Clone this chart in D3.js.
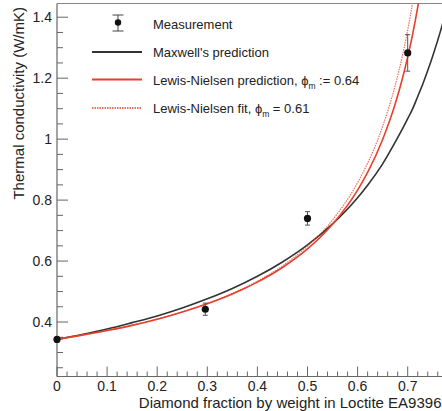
<!DOCTYPE html>
<html>
<head>
<meta charset="utf-8">
<script src="https://cdn.jsdelivr.net/npm/d3@7"></script>
<style>
  html, body { margin: 0; padding: 0; background: #fff; }
  svg text { font-family: "Liberation Sans", Arial, Helvetica, sans-serif; }
</style>
</head>
<body>
<svg id="chart" width="442" height="411"></svg>
<script>
// ---- data ----
const measX   = [0, 0.296, 0.5, 0.7];
const measY   = [0.343, 0.442, 0.740, 1.283];
const measErr = [0.005, 0.020, 0.022, 0.060];

const curveX        = [0, 0.05, 0.1, 0.15, 0.2, 0.25, 0.3, 0.35, 0.4, 0.45, 0.5, 0.55, 0.6, 0.62, 0.65, 0.675, 0.69, 0.7, 0.71, 0.72, 0.73, 0.74, 0.75, 0.765, 0.77];
const maxwellY      = [0.343, 0.359, 0.377, 0.398, 0.420, 0.446, 0.476, 0.510, 0.550, 0.597, 0.653, 0.722, 0.808, 0.849, 0.919, 0.990, 1.035, 1.067, 1.100, 1.140, 1.180, 1.225, 1.273, 1.352, 1.381];
const lnPredY       = [0.343, 0.357, 0.372, 0.389, 0.409, 0.433, 0.460, 0.492, 0.531, 0.579, 0.640, 0.721, 0.833, 0.891, 0.999, 1.115, 1.202, 1.270, 1.345, 1.433, 1.534, null, null, null, null];
const lnFitY        = [0.343, 0.357, 0.372, 0.390, 0.410, 0.433, 0.461, 0.494, 0.534, 0.584, 0.649, 0.735, 0.857, 0.921, 1.042, 1.176, 1.278, 1.358, 1.451, 1.560, null, null, null, null, null];

const xTickLabels = ["0", "0.1", "0.2", "0.3", "0.4", "0.5", "0.6", "0.7"];
const yTickLabels = ["0.4", "0.6", "0.8", "1", "1.2", "1.4"];

const legendLabels = ["Measurement", "Maxwell's prediction", "Lewis-Nielsen prediction, ", "Lewis-Nielsen fit, "];

// ---- layout ----
const svg = d3.select("#chart");
const L = 57, T = 3.5, B = 376.5;
const x = d3.scaleLinear().domain([0, 0.77]).range([L, L + 0.77 * 501]);
const y = d3.scaleLinear().domain([0.2213, 1.445]).range([B, T]);
const R = 442;

const axisCol = "#666";
const black = "#333";
const red = "#e8402d";

svg.append("clipPath").attr("id", "clip")
  .append("rect").attr("x", L).attr("y", T).attr("width", R - L).attr("height", B - T);

// frame
svg.append("line").attr("x1", L).attr("x2", R).attr("y1", T).attr("y2", T).attr("stroke", "#888").attr("stroke-width", 1.2);
svg.append("line").attr("x1", L).attr("x2", L).attr("y1", T).attr("y2", B).attr("stroke", axisCol).attr("stroke-width", 1.2);
svg.append("line").attr("x1", L).attr("x2", R).attr("y1", B).attr("y2", B).attr("stroke", axisCol).attr("stroke-width", 1.2);

// x ticks (inside)
const xMinor = d3.range(0, 0.771, 0.02);
svg.append("g").selectAll("line").data(xMinor).join("line")
  .attr("x1", d => x(d)).attr("x2", d => x(d))
  .attr("y1", B).attr("y2", d => Math.abs(d * 10 - Math.round(d * 10)) < 1e-6 ? B - 10 : B - 5)
  .attr("stroke", axisCol).attr("stroke-width", 1);
svg.append("g").selectAll("text").data(xTickLabels).join("text")
  .attr("x", d => x(+d)).attr("y", 390.5)
  .attr("text-anchor", "middle").attr("font-size", 14).attr("fill", "#222")
  .text(d => d);

// y ticks (inside)
const yMinor = d3.range(0.25, 1.4451, 0.05);
svg.append("g").selectAll("line").data(yMinor).join("line")
  .attr("x1", L).attr("x2", d => {
    const k = Math.round(d * 100);
    return (k % 20 === 0) ? L + 11 : L + 6;
  })
  .attr("y1", d => y(d)).attr("y2", d => y(d))
  .attr("stroke", axisCol).attr("stroke-width", 1);
svg.append("g").selectAll("text").data(yTickLabels).join("text")
  .attr("x", 52).attr("y", d => y(+d) + 5)
  .attr("text-anchor", "end").attr("font-size", 14).attr("fill", "#222")
  .text(d => d);

// axis titles
svg.append("text").attr("x", 441.5).attr("y", 407.5).attr("text-anchor", "end")
  .attr("font-size", 15).attr("fill", "#222")
  .text("Diamond fraction by weight in Loctite EA9396");
svg.append("text").attr("transform", "translate(23.5,7) rotate(-90)").attr("text-anchor", "end")
  .attr("font-size", 15).attr("fill", "#222")
  .text("Thermal conductivity (W/mK)");

// curves
const plot = svg.append("g").attr("clip-path", "url(#clip)");
function curvePts(ys) {
  return curveX.map((cx, i) => [cx, ys[i]]).filter(p => p[1] !== null);
}
const line = d3.line().x(d => x(d[0])).y(d => y(d[1])).curve(d3.curveMonotoneX);
plot.append("path").attr("d", line(curvePts(maxwellY))).attr("fill", "none").attr("stroke", black).attr("stroke-width", 1.6);
plot.append("path").attr("d", line(curvePts(lnPredY))).attr("fill", "none").attr("stroke", red).attr("stroke-width", 1.6);
plot.append("path").attr("d", line(curvePts(lnFitY))).attr("fill", "none").attr("stroke", red).attr("stroke-opacity", 0.75)
  .attr("stroke-width", 1.2).attr("stroke-dasharray", "1.5,1");

// measurements
const meas = measX.map((mx, i) => ({ x: mx, y: measY[i], e: measErr[i] }));
const mg = plot.append("g");
mg.selectAll("line.eb").data(meas).join("line").attr("class", "eb")
  .attr("x1", d => x(d.x)).attr("x2", d => x(d.x))
  .attr("y1", d => y(d.y - d.e)).attr("y2", d => y(d.y + d.e))
  .attr("stroke", "#555").attr("stroke-width", 1);
[-1, 1].forEach(s => {
  mg.selectAll("line.cap" + (s > 0 ? "p" : "m")).data(meas.filter(d => d.e > 0.01)).join("line")
    .attr("class", "cap" + (s > 0 ? "p" : "m"))
    .attr("x1", d => x(d.x) - 2.5).attr("x2", d => x(d.x) + 2.5)
    .attr("y1", d => y(d.y + s * d.e)).attr("y2", d => y(d.y + s * d.e))
    .attr("stroke", "#555").attr("stroke-width", 1);
});
svg.selectAll("circle.m").data(meas).join("circle").attr("class", "m")
  .attr("cx", d => x(d.x)).attr("cy", d => y(d.y)).attr("r", 3.6).attr("fill", "#111");

// legend
const lg = svg.append("g");
lg.append("line").attr("x1", 118).attr("x2", 118).attr("y1", 15).attr("y2", 31).attr("stroke", "#444");
lg.append("line").attr("x1", 112.5).attr("x2", 123.5).attr("y1", 15).attr("y2", 15).attr("stroke", "#444");
lg.append("line").attr("x1", 112.5).attr("x2", 123.5).attr("y1", 31).attr("y2", 31).attr("stroke", "#444");
lg.append("circle").attr("cx", 118).attr("cy", 22.5).attr("r", 3.2).attr("fill", "#111");

lg.append("line").attr("x1", 92).attr("x2", 142).attr("y1", 52).attr("y2", 52).attr("stroke", black).attr("stroke-width", 2);
lg.append("line").attr("x1", 92).attr("x2", 142).attr("y1", 79.5).attr("y2", 79.5).attr("stroke", red).attr("stroke-width", 2);
lg.append("line").attr("x1", 92).attr("x2", 142).attr("y1", 108).attr("y2", 108).attr("stroke", red)
  .attr("stroke-width", 1.4).attr("stroke-dasharray", "1.5,1");

const ty = [28.5, 57, 84.5, 113];
legendLabels.forEach((t, i) => {
  const tx = lg.append("text").attr("x", 153).attr("y", ty[i]).attr("font-size", 13).attr("fill", "#222").text(t);
  if (i === 2) {
    tx.append("tspan").text("ϕ");
    tx.append("tspan").attr("font-size", 8.5).attr("dy", 4).text("m");
    tx.append("tspan").attr("dy", -4).text(" := 0.64");
  }
  if (i === 3) {
    tx.append("tspan").text("ϕ");
    tx.append("tspan").attr("font-size", 8.5).attr("dy", 4).text("m");
    tx.append("tspan").attr("dy", -4).text(" = 0.61");
  }
});
</script>
</body>
</html>
